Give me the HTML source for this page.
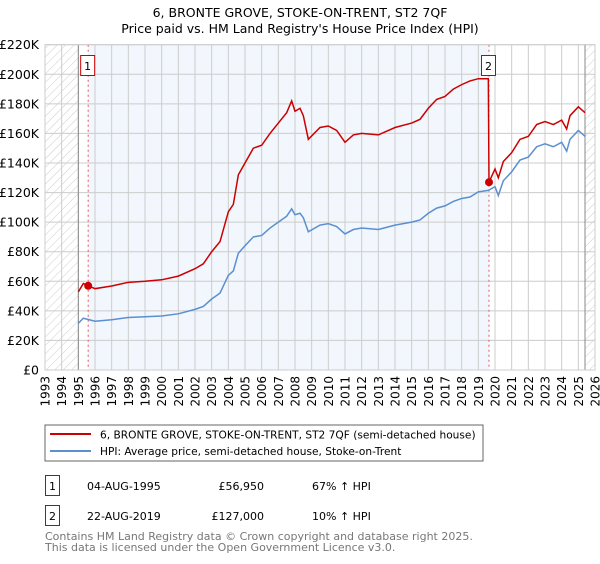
<!DOCTYPE html>
<html><head><meta charset="utf-8"><style>
body{margin:0;background:#fff;font-family:"DejaVu Sans","Liberation Sans",sans-serif}
svg text{font-family:"DejaVu Sans","Liberation Sans",sans-serif}
</style></head><body>
<svg id="c" width="600" height="560" xmlns="http://www.w3.org/2000/svg">
<defs><pattern id="hatch" width="6" height="6" patternUnits="userSpaceOnUse" patternTransform="rotate(45)"><line x1="0" y1="0" x2="0" y2="6" stroke="#ccc" stroke-width="1"/></pattern></defs>
<text x="300" y="17" text-anchor="middle" font-size="12.5">6, BRONTE GROVE, STOKE-ON-TRENT, ST2 7QF</text>
<text x="300" y="33" text-anchor="middle" font-size="12.5">Price paid vs. HM Land Registry's House Price Index (HPI)</text>
<g id="plot"></g>
<rect x="45" y="425" width="438" height="36" fill="#fff" stroke="#666"/>
<line x1="50" y1="434" x2="91" y2="434" stroke="#cc0000" stroke-width="2"/>
<text x="100" y="438.5" font-size="10.6">6, BRONTE GROVE, STOKE-ON-TRENT, ST2 7QF (semi-detached house)</text>
<line x1="50" y1="451" x2="91" y2="451" stroke="#5b8fd0" stroke-width="2"/>
<text x="100" y="455" font-size="10.6">HPI: Average price, semi-detached house, Stoke-on-Trent</text>
<g font-size="11">
<rect x="45.5" y="475.5" width="14" height="20" fill="none" stroke="#cc0000"/>
<text x="52.5" y="490" text-anchor="middle">1</text>
<text x="87" y="490">04-AUG-1995</text>
<text x="264" y="490" text-anchor="end">£56,950</text>
<text x="312" y="490">67% ↑ HPI</text>
<rect x="45.5" y="505.5" width="14" height="20" fill="none" stroke="#cc0000"/>
<text x="52.5" y="520" text-anchor="middle">2</text>
<text x="87" y="520">22-AUG-2019</text>
<text x="264" y="520" text-anchor="end">£127,000</text>
<text x="312" y="520">10% ↑ HPI</text>
</g>
<text x="45" y="540" font-size="11" fill="#777">Contains HM Land Registry data © Crown copyright and database right 2025.</text>
<text x="45" y="551" font-size="11" fill="#777">This data is licensed under the Open Government Licence v3.0.</text>
</svg>
<script>
const yearTicks=[1993,1994,1995,1996,1997,1998,1999,2000,2001,2002,2003,2004,2005,2006,2007,2008,2009,2010,2011,2012,2013,2014,2015,2016,2017,2018,2019,2020,2021,2022,2023,2024,2025,2026];
const valueTicks=[0,20,40,60,80,100,120,140,160,180,200,220];
const valueLabels=["£0","£20K","£40K","£60K","£80K","£100K","£120K","£140K","£160K","£180K","£200K","£220K"];
const hpiYears=[1995.0,1995.3,1996,1997,1998,1999,2000,2001,2002,2002.5,2003,2003.5,2004,2004.3,2004.6,2005,2005.5,2006,2006.5,2007,2007.5,2007.8,2008.0,2008.3,2008.5,2008.8,2009.5,2010,2010.5,2011,2011.5,2012,2013,2014,2015,2015.5,2016,2016.5,2017,2017.5,2018,2018.5,2019,2019.6,2020,2020.2,2020.5,2021,2021.5,2022,2022.5,2023,2023.5,2024,2024.3,2024.5,2025,2025.4];
const hpiValues=[31.6,35,33,34,35.5,36,36.5,38,41,43,48,52,64,67,79,84,90,91,96,100,104,109,105,106,103,93.5,98,99,97,92,95,96,95,98,100,101.5,106,109.5,111,114,116,117,120.5,121.5,124,118,128,134,142,144,151,153,151,154,148,156,162,158];
const priceYears=[1995.0,1995.3,1996,1997,1998,1999,2000,2001,2002,2002.5,2003,2003.5,2004,2004.3,2004.6,2005,2005.5,2006,2006.5,2007,2007.5,2007.8,2008.0,2008.3,2008.5,2008.8,2009.5,2010,2010.5,2011,2011.5,2012,2013,2014,2015,2015.5,2016,2016.5,2017,2017.5,2018,2018.5,2019,2019.6,2019.64,2020,2020.2,2020.5,2021,2021.5,2022,2022.5,2023,2023.5,2024,2024.3,2024.5,2025,2025.4];
const priceValues=[52.8,58.5,55,56.8,59.3,60,61,63.5,68.5,71.8,80,86.8,107,112,132,140,150,152,160,167,174,182,175,177,172,156,164,165,162,154,159,160,159,164,167,169.5,177,183,185,190,193,195.5,197,197,127,136,130,141,147,156,158,166,168,166,169,163,172,178,174];
const saleYears=[1995.59,2019.64];
const saleValues=[56.95,127];
const saleLabels=["1","2"];
const X0=45,X1=595,Y0=370,Y1=44.7;
const x=y=>X0+(y-1993)/(2026-1993)*(X1-X0);
const yv=v=>Y0-v/220*(Y0-Y1);
const NS="http://www.w3.org/2000/svg";
const g=document.getElementById('plot');
function mk(t,a){const e=document.createElementNS(NS,t);for(const k in a)e.setAttribute(k,a[k]);g.appendChild(e);return e;}
let e;
e=mk('rect',{x:x(saleYears[0]),y:Y1,width:x(saleYears[1])-x(saleYears[0]),height:Y0-Y1,fill:'#f2f6fd'});


e=mk('rect',{x:X0,y:Y1,width:x(1995)-X0,height:Y0-Y1,fill:'url(#hatch)'});


e=mk('rect',{x:x(2025.4),y:Y1,width:X1-x(2025.4),height:Y0-Y1,fill:'url(#hatch)'});


yearTicks.forEach(t=>{
 e=mk('line',{x1:x(t),x2:x(t),y1:Y1,y2:Y0,stroke:'#ccc','stroke-width':1});
 
 
 e=mk('text',{x:0,y:0,'font-size':12,'text-anchor':'end',transform:`translate(${x(t)+4.5},${Y0+6}) rotate(-90)`});
 e.textContent=t;
 
 
});
valueTicks.forEach((t,i)=>{
 e=mk('line',{x1:X0,x2:X1,y1:yv(t),y2:yv(t),stroke:'#ccc','stroke-width':1});
 
 
 e=mk('text',{x:X0-6,y:yv(t)+4.5,'font-size':12.5,'text-anchor':'end'});
 e.textContent=valueLabels[i];
 
 
});
e=mk('line',{x1:x(1995),x2:x(1995),y1:Y1,y2:Y0,stroke:'#888'});


e=mk('line',{x1:x(2025.4),x2:x(2025.4),y1:Y1,y2:Y0,stroke:'#888'});


saleYears.forEach((s,i)=>{
 e=mk('line',{x1:x(s),x2:x(s),y1:Y1,y2:Y0,stroke:'#ee5555','stroke-dasharray':'2,3','stroke-width':1});
 
 
});
e=mk('polyline',{points:hpiYears.map((t,i)=>x(t)+','+yv(hpiValues[i])).join(' '),fill:'none',stroke:'#5b8fd0','stroke-width':1.5});


e=mk('polyline',{points:priceYears.map((t,i)=>x(t)+','+yv(priceValues[i])).join(' '),fill:'none',stroke:'#cc0000','stroke-width':1.5});


saleYears.forEach((s,i)=>{
 e=mk('circle',{cx:x(s),cy:yv(saleValues[i]),r:4,fill:'#cc0000'});
 
 
 e=mk('rect',{x:x(s)-7.5,y:55.5,width:14,height:20,fill:'#fff',stroke:'#cc0000'});
 
 
 e=mk('text',{x:x(s)-0.5,y:70,'font-size':11,'text-anchor':'middle'});
 e.textContent=saleLabels[i];
 
 
});
e=mk('rect',{x:X0,y:Y1,width:X1-X0,height:Y0-Y1,fill:'none',stroke:'#ccc'});


</script>
</body></html>
